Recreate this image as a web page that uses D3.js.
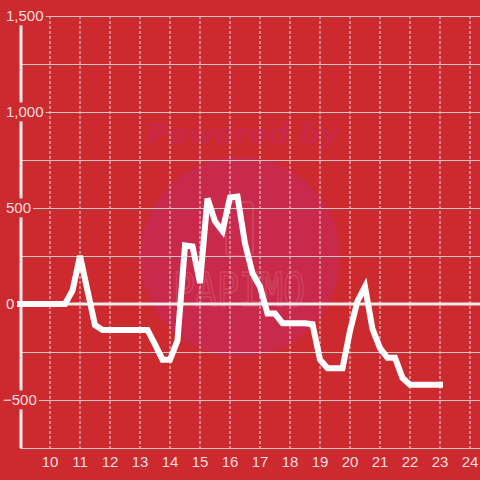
<!DOCTYPE html>
<html>
<head>
<meta charset="utf-8">
<script src="https://cdn.jsdelivr.net/npm/d3@7"></script>
<style>
  html, body { margin: 0; padding: 0; background: #cc2a2f; }
  svg { display: block; }
</style>
</head>
<body>
<svg id="chart" width="480" height="480"></svg>
<script>
const hours = [9, 9.25, 9.5, 9.75, 10, 10.25, 10.5, 10.75, 11, 11.25, 11.5, 11.75,
  12, 12.25, 12.5, 12.75, 13, 13.25, 13.5, 13.75, 14, 14.25, 14.5, 14.75,
  15, 15.25, 15.5, 15.75, 16, 16.25, 16.5, 16.75, 17, 17.25, 17.5, 17.75,
  18, 18.25, 18.5, 18.75, 19, 19.25, 19.5, 19.75, 20, 20.25, 20.5, 20.75,
  21, 21.25, 21.5, 21.75, 22, 22.25, 22.5, 22.75, 23];
const values = [0, 0, 0, 0, 0, 0, 0, 70, 250, 70, -110, -135,
  -135, -135, -135, -135, -135, -135, -210, -290, -290, -190, 305, 300,
  110, 550, 430, 380, 555, 560, 315, 160, 90, -50, -50, -100,
  -100, -100, -100, -105, -290, -335, -335, -335, -140, 15, 90, -130,
  -230, -280, -280, -385, -420, -420, -420, -420, -420];
const xTicks = [10, 11, 12, 13, 14, 15, 16, 17, 18, 19, 20, 21, 22, 23, 24];
const yGrid = [-500, -250, 0, 250, 500, 750, 1000, 1250, 1500];
const yLabels = [-500, 0, 500, 1000, 1500];

const bg = "#cc2a2f";
const svg = d3.select("#chart");
const x = d3.scaleLinear().domain([9, 24 + 1/3]).range([20, 480]);
const y = d3.scaleLinear().domain([-750, 1500]).range([448, 16]);

svg.append("rect").attr("width", 480).attr("height", 480).attr("fill", bg);

// watermark
const wm = svg.append("g");
wm.append("circle").attr("cx", 240).attr("cy", 257).attr("r", 100).attr("fill", "#c9294a");
wm.append("text").attr("x", 243).attr("y", 144).attr("text-anchor", "middle")
  .attr("font-family", "DejaVu Sans, sans-serif").attr("font-weight", "bold").attr("font-style", "italic")
  .attr("font-size", 29).attr("fill", "#c92846").text("Powered by");
wm.append("rect").attr("x", 226).attr("y", 202).attr("width", 27).attr("height", 54).attr("rx", 4)
  .attr("fill", "none").attr("stroke", "#d6506a").attr("stroke-width", 2).attr("opacity", 0.6);
wm.append("text").attr("x", 173).attr("y", 306).attr("textLength", 132).attr("lengthAdjust", "spacingAndGlyphs")
  .attr("font-family", "DejaVu Sans Mono, monospace").attr("font-size", 46)
  .attr("fill", "none").attr("stroke", "#d6506a").attr("stroke-width", 2).attr("opacity", 0.6)
  .text("PAPIMO");

// vertical dotted grid
svg.append("g").selectAll("line").data(xTicks).join("line")
  .attr("x1", d => x(d)).attr("x2", d => x(d))
  .attr("y1", y(1500)).attr("y2", y(-750))
  .attr("stroke", "#e8dede").attr("stroke-width", 1).attr("stroke-dasharray", "3,2");

// horizontal grid
svg.append("g").selectAll("line").data(yGrid.filter(d => d !== 0).concat([-750])).join("line")
  .attr("x1", 20).attr("x2", 480)
  .attr("y1", d => y(d) + 0.5).attr("y2", d => y(d) + 0.5)
  .attr("stroke", "#cfc6c6").attr("stroke-width", 1);

// zero line
svg.append("line").attr("x1", 17).attr("x2", 480).attr("y1", y(0)).attr("y2", y(0))
  .attr("stroke", "#f2eaea").attr("stroke-width", 3);

// y axis line
svg.append("line").attr("x1", 21).attr("x2", 21).attr("y1", y(1500)).attr("y2", y(-750))
  .attr("stroke", "#f2eaea").attr("stroke-width", 3);

// y labels with background
const fmt = d3.format(",");
const yl = svg.append("g").selectAll("g").data(yLabels).join("g");
yl.each(function(d) {
  const g = d3.select(this);
  const t = g.append("text").attr("x", d < 0 ? 3 : 6).attr("y", y(d)).attr("dy", "0.36em")
    .attr("font-family", "Liberation Sans, Arial, sans-serif").attr("font-size", 15)
    .attr("fill", "#f4dfdf").text(fmt(d));
  const b = t.node().getBBox();
  g.insert("rect", "text").attr("x", b.x - 1).attr("y", b.y - 1)
    .attr("width", b.width + 3).attr("height", b.height + 2).attr("fill", bg);
});

// x labels
svg.append("g").selectAll("text").data(xTicks).join("text")
  .attr("x", d => x(d)).attr("y", 462).attr("dy", "0.36em").attr("text-anchor", "middle")
  .attr("font-family", "Liberation Sans, Arial, sans-serif").attr("font-size", 15)
  .attr("fill", "#f4dfdf").text(d => d);

// data line
const line = d3.line().x((d, i) => x(hours[i])).y(d => y(d));
svg.append("path").datum(values).attr("d", line)
  .attr("fill", "none").attr("stroke", "#ffffff").attr("stroke-width", 6)
  .attr("stroke-linejoin", "miter").attr("stroke-linecap", "square");
</script>
</body>
</html>
